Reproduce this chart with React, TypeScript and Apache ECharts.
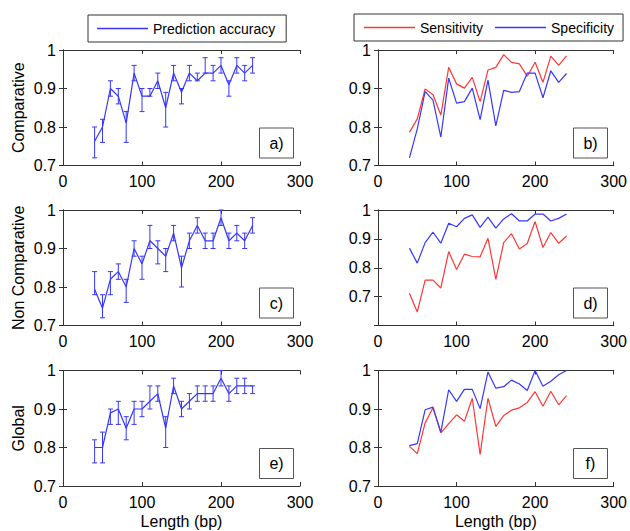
import React, { useEffect, useRef } from "react";
import * as echarts from "echarts";

const lengths = [40, 50, 60, 70, 80, 90, 100, 110, 120, 130, 140, 150, 160, 170, 180, 190, 200, 210, 220, 230, 240];
const xTicks = [0, 100, 200, 300];
const rowNames = ["Comparative", "Non Comparative", "Global"];
const panelLabels = ["a)", "b)", "c)", "d)", "e)", "f)"];

// a) Comparative - prediction accuracy with error bars
const accA = [0.763, 0.80, 0.90, 0.88, 0.81, 0.94, 0.88, 0.88, 0.92, 0.85, 0.94, 0.89, 0.94, 0.92, 0.94, 0.94, 0.96, 0.91, 0.96, 0.94, 0.96];
const lowA = [0.72, 0.76, 0.88, 0.86, 0.76, 0.92, 0.84, 0.88, 0.90, 0.80, 0.92, 0.86, 0.92, 0.92, 0.94, 0.92, 0.94, 0.88, 0.94, 0.92, 0.94];
const highA = [0.80, 0.82, 0.92, 0.90, 0.84, 0.96, 0.90, 0.90, 0.94, 0.89, 0.96, 0.90, 0.96, 0.94, 0.98, 0.96, 0.98, 0.92, 0.98, 0.96, 0.98];

// b) Comparative - sensitivity / specificity
const sensB = [0.786, 0.821, 0.899, 0.884, 0.831, 0.955, 0.912, 0.901, 0.929, 0.866, 0.948, 0.955, 0.988, 0.968, 0.964, 0.932, 0.968, 0.916, 0.984, 0.960, 0.985];
const specB = [0.72, 0.795, 0.892, 0.870, 0.774, 0.927, 0.862, 0.866, 0.901, 0.819, 0.922, 0.803, 0.895, 0.890, 0.892, 0.940, 0.940, 0.876, 0.946, 0.916, 0.939];

// c) Non Comparative - prediction accuracy
const accC = [0.794, 0.745, 0.82, 0.84, 0.80, 0.90, 0.86, 0.92, 0.90, 0.88, 0.94, 0.85, 0.92, 0.96, 0.92, 0.92, 0.98, 0.92, 0.94, 0.92, 0.96];
const lowC = [0.78, 0.72, 0.78, 0.82, 0.76, 0.88, 0.82, 0.90, 0.86, 0.84, 0.92, 0.80, 0.90, 0.94, 0.90, 0.90, 0.96, 0.90, 0.92, 0.90, 0.94];
const highC = [0.84, 0.78, 0.84, 0.86, 0.82, 0.92, 0.88, 0.96, 0.92, 0.90, 0.96, 0.88, 0.94, 0.98, 0.94, 0.94, 1.00, 0.94, 0.96, 0.94, 0.98];

// d) Non Comparative - sensitivity / specificity
const sensD = [0.712, 0.647, 0.757, 0.757, 0.730, 0.856, 0.794, 0.847, 0.839, 0.838, 0.902, 0.760, 0.887, 0.918, 0.865, 0.884, 0.960, 0.870, 0.922, 0.885, 0.910];
const specD = [0.868, 0.816, 0.887, 0.923, 0.885, 0.954, 0.942, 0.971, 0.983, 0.940, 0.975, 0.937, 0.969, 0.987, 0.962, 0.962, 0.986, 0.986, 0.962, 0.971, 0.986];

// e) Global - prediction accuracy
const accE = [0.80, 0.80, 0.89, 0.90, 0.85, 0.90, 0.90, 0.92, 0.94, 0.85, 0.96, 0.90, 0.92, 0.94, 0.94, 0.94, 0.98, 0.94, 0.96, 0.96, 0.96];
const lowE = [0.76, 0.76, 0.86, 0.86, 0.82, 0.86, 0.88, 0.90, 0.92, 0.80, 0.94, 0.88, 0.90, 0.92, 0.92, 0.92, 0.96, 0.92, 0.94, 0.94, 0.94];
const highE = [0.82, 0.84, 0.90, 0.92, 0.88, 0.92, 0.92, 0.96, 0.96, 0.88, 0.98, 0.92, 0.94, 0.96, 0.96, 0.96, 1.00, 0.96, 0.98, 0.98, 0.96];

// f) Global - sensitivity / specificity
const sensF = [0.803, 0.784, 0.864, 0.903, 0.838, 0.862, 0.885, 0.868, 0.928, 0.782, 0.928, 0.855, 0.883, 0.897, 0.903, 0.917, 0.945, 0.907, 0.946, 0.911, 0.935];
const specF = [0.805, 0.810, 0.898, 0.905, 0.840, 0.950, 0.920, 0.951, 0.951, 0.901, 0.996, 0.954, 0.958, 0.975, 0.965, 0.948, 1.000, 0.959, 0.972, 0.989, 1.000];

const yMins = [0.7, 0.7, 0.7, 0.6, 0.7, 0.7];

const BLUE = "#3636ff";
const RED = "#ff3636";
const AXIS = "#333333";
const FONT = "'Liberation Sans', Arial, Helvetica, sans-serif";

const COL_X = [63, 378];
const COL_W = [237, 236];
const ROW_Y = [50, 210, 370.5];
const ROW_H = 115.5;

export default function App() {
  const ref = useRef<HTMLDivElement>(null);

  useEffect(() => {
    if (!ref.current) return;
    const chart = echarts.init(ref.current, undefined, { renderer: "svg" });

    const grids: any[] = [];
    const xAxes: any[] = [];
    const yAxes: any[] = [];
    const series: any[] = [];
    const graphics: any[] = [];

    const accPanels = [
      { acc: accA, low: lowA, high: highA },
      { acc: accC, low: lowC, high: highC },
      { acc: accE, low: lowE, high: highE },
    ];
    const ssPanels = [
      { sens: sensB, spec: specB },
      { sens: sensD, spec: specD },
      { sens: sensF, spec: specF },
    ];

    for (let p = 0; p < 6; p++) {
      const row = Math.floor(p / 2);
      const col = p % 2;
      const gx = COL_X[col];
      const gy = ROW_Y[row];
      const gw = COL_W[col];
      grids.push({ left: gx, top: gy, width: gw, height: ROW_H, show: false });

      const isBottom = row === 2;
      xAxes.push({
        gridIndex: p,
        type: "value",
        min: xTicks[0],
        max: xTicks[xTicks.length - 1],
        interval: 100,
        position: "bottom",
        name: isBottom ? "Length (bp)" : "",
        nameLocation: "middle",
        nameGap: 27,
        nameTextStyle: { fontSize: 16, color: "#000", fontFamily: FONT },
        axisLine: { show: true, lineStyle: { color: AXIS, width: 1 } },
        axisTick: { show: true, inside: true, length: 4, lineStyle: { color: AXIS } },
        axisLabel: { show: true, fontSize: 16, color: "#000", margin: 8, fontFamily: FONT },
        splitLine: { show: false },
      });
      xAxes.push({
        gridIndex: p,
        type: "value",
        min: xTicks[0],
        max: xTicks[xTicks.length - 1],
        interval: 100,
        position: "top",
        axisLine: { show: true, lineStyle: { color: AXIS, width: 1 } },
        axisTick: { show: true, inside: true, length: 4, lineStyle: { color: AXIS } },
        axisLabel: { show: false },
        splitLine: { show: false },
      });
      yAxes.push({
        gridIndex: p,
        type: "value",
        min: yMins[p],
        max: 1,
        interval: 0.1,
        position: "left",
        name: col === 0 ? rowNames[row] : "",
        nameLocation: "middle",
        nameRotate: 90,
        nameGap: 37,
        nameTextStyle: { fontSize: 16, color: "#000", fontFamily: FONT },
        axisLine: { show: true, lineStyle: { color: AXIS, width: 1 } },
        axisTick: { show: true, inside: true, length: 4, lineStyle: { color: AXIS } },
        axisLabel: {
          show: true,
          fontSize: 16,
          color: "#000",
          margin: 7,
          fontFamily: FONT,
          showMinLabel: yMins[p] === 0.7,
        },
        splitLine: { show: false },
      });
      yAxes.push({
        gridIndex: p,
        type: "value",
        min: yMins[p],
        max: 1,
        interval: 0.1,
        position: "right",
        axisLine: { show: true, lineStyle: { color: AXIS, width: 1 } },
        axisTick: { show: true, inside: true, length: 4, lineStyle: { color: AXIS } },
        axisLabel: { show: false },
        splitLine: { show: false },
      });

      const xi = 2 * p;
      const yi = 2 * p;
      if (col === 0) {
        const d = accPanels[row];
        series.push({
          name: "Prediction accuracy",
          type: "line",
          xAxisIndex: xi,
          yAxisIndex: yi,
          symbol: "none",
          lineStyle: { color: BLUE, width: 1.2 },
          itemStyle: { color: BLUE },
          data: lengths.map((x, i) => [x, d.acc[i]]),
        });
        series.push({
          name: "errors",
          type: "custom",
          xAxisIndex: xi,
          yAxisIndex: yi,
          encode: { x: 0, y: [1, 2] },
          data: lengths.map((x, i) => [x, d.low[i], d.high[i]]),
          renderItem: (params: any, api: any) => {
            const x = api.value(0);
            const lo = api.coord([x, api.value(1)]);
            const hi = api.coord([x, api.value(2)]);
            const w = 2.5;
            const st = { stroke: BLUE, lineWidth: 1 };
            return {
              type: "group",
              children: [
                { type: "line", shape: { x1: lo[0], y1: lo[1], x2: hi[0], y2: hi[1] }, style: st },
                { type: "line", shape: { x1: lo[0] - w, y1: lo[1], x2: lo[0] + w, y2: lo[1] }, style: st },
                { type: "line", shape: { x1: hi[0] - w, y1: hi[1], x2: hi[0] + w, y2: hi[1] }, style: st },
              ],
            };
          },
        });
      } else {
        const d = ssPanels[row];
        series.push({
          name: "Sensitivity",
          type: "line",
          xAxisIndex: xi,
          yAxisIndex: yi,
          symbol: "none",
          lineStyle: { color: RED, width: 1.2 },
          itemStyle: { color: RED },
          data: lengths.map((x, i) => [x, d.sens[i]]),
        });
        series.push({
          name: "Specificity",
          type: "line",
          xAxisIndex: xi,
          yAxisIndex: yi,
          symbol: "none",
          lineStyle: { color: BLUE, width: 1.2 },
          itemStyle: { color: BLUE },
          data: lengths.map((x, i) => [x, d.spec[i]]),
        });
      }

      const bw = 34;
      const bh = 30;
      const bx = gx + gw - 6.5 - bw;
      const by = gy + ROW_H - 7.5 - bh;
      graphics.push({
        type: "rect",
        shape: { x: bx, y: by, width: bw, height: bh },
        style: { fill: "#fff", stroke: "#555", lineWidth: 1 },
        z: 50,
      });
      graphics.push({
        type: "text",
        x: bx + bw / 2,
        y: by + bh / 2,
        style: {
          text: panelLabels[p],
          fontSize: 16,
          fill: "#000",
          fontFamily: FONT,
          align: "center",
          verticalAlign: "middle",
        },
        z: 51,
      });
    }

    chart.setOption({
      animation: false,
      backgroundColor: "#fff",
      grid: grids,
      xAxis: xAxes,
      yAxis: yAxes,
      series,
      graphic: graphics,
      legend: [
        {
          data: [{ name: "Prediction accuracy", itemStyle: { color: BLUE } }],
          left: 88,
          top: 15,
          orient: "horizontal",
          padding: [6, 11, 6, 9],
          icon: "rect",
          itemWidth: 51,
          itemHeight: 1.5,
          borderColor: "#333",
          borderWidth: 1,
          selectedMode: false,
          textStyle: { fontSize: 14, color: "#000", fontFamily: FONT, lineHeight: 15 },
        },
        {
          data: [
            { name: "Sensitivity", itemStyle: { color: RED } },
            { name: "Specificity", itemStyle: { color: BLUE } },
          ],
          left: 354,
          top: 14,
          orient: "horizontal",
          padding: [6, 9, 6, 10],
          icon: "rect",
          itemWidth: 51,
          itemHeight: 1.5,
          itemGap: 12,
          borderColor: "#333",
          borderWidth: 1,
          selectedMode: false,
          textStyle: { fontSize: 14, color: "#000", fontFamily: FONT, lineHeight: 15 },
        },
      ],
    });

    return () => chart.dispose();
  }, []);

  return <div ref={ref} style={{ width: 630, height: 531, position: "absolute", left: 0, top: 0 }} />;
}
